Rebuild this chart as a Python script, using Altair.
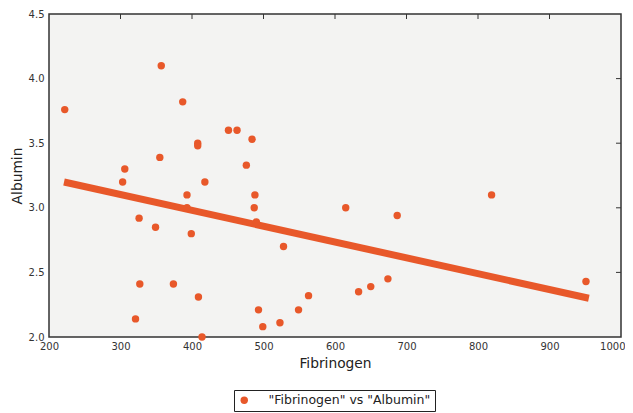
import altair as alt
import pandas as pd

fibrinogen = [222, 357, 387, 306, 303, 355, 408, 408, 451, 463, 484, 476, 418, 393, 488,
              393, 487, 490, 326, 349, 399, 528, 327, 374, 409, 321, 414, 493, 499, 523,
              549, 563, 615, 687, 819, 633, 650, 674, 951]
albumin = [3.76, 4.10, 3.82, 3.30, 3.20, 3.39, 3.50, 3.48, 3.60, 3.60, 3.53, 3.33, 3.20, 3.10, 3.10,
           3.00, 3.00, 2.89, 2.92, 2.85, 2.80, 2.70, 2.41, 2.41, 2.31, 2.14, 2.00, 2.21, 2.08, 2.11,
           2.21, 2.32, 3.00, 2.94, 3.10, 2.35, 2.39, 2.45, 2.43]
fit_x = [221, 955]
fit_y = [3.20, 2.30]
x_ticks = [200, 300, 400, 500, 600, 700, 800, 900, 1000]
y_ticks = [2.0, 2.5, 3.0, 3.5, 4.0, 4.5]
series_name = '"Fibrinogen" vs "Albumin"'

ORANGE = "#e8582a"
FONT = "DejaVu Sans"

pts = pd.DataFrame({"Fibrinogen": fibrinogen, "Albumin": albumin, "s": series_name})
fit = pd.DataFrame({"Fibrinogen": fit_x, "Albumin": fit_y})
xt = pd.DataFrame({"v": x_ticks[1:-1]})
yt = pd.DataFrame({"v": y_ticks[1:-1]})

xs = alt.Scale(domain=[200, 1000], nice=False, zero=False)
ys = alt.Scale(domain=[2.0, 4.5], nice=False, zero=False)

x_axis = alt.Axis(values=x_ticks, format="d", title="Fibrinogen", grid=False, domain=False,
                  ticks=False, labelPadding=4, labelFontSize=10, labelColor="#333333",
                  labelFlush=False, labelOverlap=False,
                  labelAlign={"condition": {"test": "datum.value >= 1000", "value": "right"},
                              "value": "center"},
                  labelOffset={"condition": {"test": "datum.value >= 1000", "value": 4},
                               "value": 0},
                  titleFontSize=13.8, titleFontWeight="normal", titleColor="#222222",
                  titlePadding=5, labelFont=FONT, titleFont=FONT)
y_axis = alt.Axis(values=y_ticks, format=".1f", title="Albumin", grid=False, domain=False,
                  ticks=False, labelPadding=5, labelFontSize=10, labelColor="#333333",
                  labelFlush=False, labelOverlap=False,
                  titleFontSize=13.8, titleFontWeight="normal", titleColor="#222222",
                  titlePadding=4, labelFont=FONT, titleFont=FONT)

line = alt.Chart(fit).mark_line(color=ORANGE, strokeWidth=7, strokeCap="butt").encode(
    x=alt.X("Fibrinogen:Q", scale=xs, axis=x_axis),
    y=alt.Y("Albumin:Q", scale=ys, axis=y_axis),
)

points = alt.Chart(pts).mark_circle(size=55, opacity=1).encode(
    x=alt.X("Fibrinogen:Q", scale=xs),
    y=alt.Y("Albumin:Q", scale=ys),
    color=alt.Color("s:N", scale=alt.Scale(range=[ORANGE]),
                    legend=alt.Legend(title=None, orient="none", legendX=185, legendY=376,
                                      fillColor="white", strokeColor="#222222", padding=4,
                                      labelFont=FONT, labelFontSize=12.5, labelColor="#222222",
                                      labelLimit=400,
                                      symbolType="circle", symbolSize=55, labelOffset=18,
                                      symbolStrokeWidth=0)),
)

top_ticks = alt.Chart(xt).mark_rule(color="#333333", strokeWidth=1).encode(
    x=alt.X("v:Q", scale=xs), y=alt.value(0), y2=alt.value(5))
right_ticks = alt.Chart(yt).mark_rule(color="#333333", strokeWidth=1).encode(
    y=alt.Y("v:Q", scale=ys), x=alt.value(567), x2=alt.value(572))

chart = alt.layer(line, points, top_ticks, right_ticks).properties(
    width=572, height=323,
    autosize=alt.AutoSizeParams(type="none"),
    padding={"left": 41, "top": 6, "right": 4, "bottom": 80},
).configure_view(fill="#f3f3f2", stroke="#333333", strokeWidth=1.5)

chart.save("out.html", embed_options={"renderer": "svg", "actions": False})
